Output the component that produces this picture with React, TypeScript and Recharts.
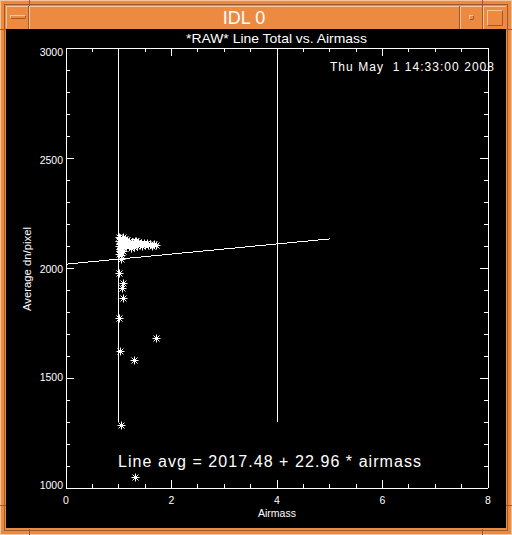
import React from 'react';
import { ScatterChart, Scatter, XAxis, YAxis, ReferenceLine } from 'recharts';

// ---- data ----
const airmass = [
  1.0, 1.01, 1.02, 1.0, 1.03, 1.04, 1.05, 1.02, 1.06, 1.07, 1.08, 1.09, 1.1, 1.11, 1.12, 1.13, 1.14, 1.15, 1.16,
  1.03, 1.05, 1.08, 1.01, 1.04, 1.06, 1.18, 1.19, 1.2,
  1.22, 1.25, 1.27, 1.3, 1.32, 1.35, 1.37, 1.4, 1.42, 1.45, 1.48, 1.5, 1.53, 1.56, 1.6, 1.63, 1.67, 1.7, 1.28, 1.24, 1.33,
  1.01, 1.04, 1.086, 1.067, 1.075, 1.01, 1.71, 1.03, 1.28, 1.05, 1.3,
];
const lineTotal = [
  2140, 2125, 2110, 2098, 2135, 2118, 2102, 2088, 2130, 2112, 2095, 2140, 2122, 2105, 2132, 2115, 2098, 2128, 2108,
  2076, 2082, 2079, 2065, 2058, 2090, 2120, 2100, 2125,
  2110, 2118, 2104, 2122, 2112, 2100, 2118, 2108, 2115, 2102, 2112, 2106, 2115, 2104, 2110, 2102, 2108, 2104, 2095, 2090, 2125,
  1976, 2040, 1932, 1908, 1864, 1771, 1680, 1623, 1580, 1286, 1051,
];
const xMajorTicks = [0, 2, 4, 6, 8];
const xAllTicks = [0, 0.5, 1, 1.5, 2, 2.5, 3, 3.5, 4, 4.5, 5, 5.5, 6, 6.5, 7, 7.5, 8];
const yMajorTicks = [1000, 1500, 2000, 2500, 3000];
const yAllTicks = [1000, 1100, 1200, 1300, 1400, 1500, 1600, 1700, 1800, 1900, 2000, 2100, 2200, 2300, 2400, 2500, 2600, 2700, 2800, 2900, 3000];
const fitIntercept = 2017.48;
const fitSlope = 22.96;
const fitXRange = [0, 5];
const markerAirmass = [1, 4];
const markerRange = [1300, 3000];

const titleText = '*RAW* Line Total vs. Airmass';
const dateText = 'Thu May  1 14:33:00 2008';
const fitText = 'Line avg = 2017.48 + 22.96 * airmass';
const xLabel = 'Airmass';
const yLabel = 'Average dn/pixel';
const windowTitle = 'IDL 0';

const points = airmass.map((x, i) => ({ x, y: lineTotal[i] }));

const FONT = '"Liberation Sans", Arial, sans-serif';
const ORANGE = '#ED8A41';
const LIGHT = '#F8C59B';
const DARK = '#A2582A';

const Asterisk = (p: any) => {
  const { cx, cy } = p;
  if (cx == null || cy == null) return <g />;
  const x = Math.round(cx) + 0.5;
  const y = Math.round(cy) + 0.5;
  return (
    <g stroke="#fff" strokeWidth={1}>
      <line x1={x - 4} x2={x + 4} y1={y} y2={y} />
      <line x1={x} x2={x} y1={y - 4} y2={y + 4} />
      <line x1={x - 3} x2={x + 3} y1={y - 3} y2={y + 3} />
      <line x1={x - 3} x2={x + 3} y1={y + 3} y2={y - 3} />
    </g>
  );
};

const BottomTick = (p: any) => {
  const { x, y, payload } = p;
  const major = xMajorTicks.includes(payload.value);
  return (
    <g>
      <line x1={x} x2={x} y1={y} y2={y - (major ? 8 : 4)} stroke="#fff" shapeRendering="crispEdges" />
      {major && (
        <text x={x} y={y + 16} textAnchor="middle" fill="#fff" fontSize={10.5} fontFamily={FONT}>
          {payload.value}
        </text>
      )}
    </g>
  );
};

const TopTick = (p: any) => {
  const { x, y, payload } = p;
  const major = xMajorTicks.includes(payload.value);
  return <line x1={x} x2={x} y1={y} y2={y + (major ? 8 : 4)} stroke="#fff" shapeRendering="crispEdges" />;
};

const LeftTick = (p: any) => {
  const { x, y, payload } = p;
  const v = payload.value;
  const major = yMajorTicks.includes(v);
  const off = 1 + 0.0035 * (v - 1000);
  return (
    <g>
      <line x1={x} x2={x + (major ? 8 : 4)} y1={y} y2={y} stroke="#fff" shapeRendering="crispEdges" />
      {major && (
        <text x={x - 3} y={y + off} textAnchor="end" fill="#fff" fontSize={10.5} fontFamily={FONT}>
          {v}
        </text>
      )}
    </g>
  );
};

const RightTick = (p: any) => {
  const { x, y, payload } = p;
  const major = yMajorTicks.includes(payload.value);
  return <line x1={x} x2={x - (major ? 8 : 4)} y1={y} y2={y} stroke="#fff" shapeRendering="crispEdges" />;
};

const Frame = () => (
  <svg width={512} height={535} style={{ position: 'absolute', left: 0, top: 0 }}>
    <rect x={0} y={0} width={512} height={535} fill={ORANGE} />
    <rect x={0.5} y={0.5} width={511} height={534} fill="none" stroke={LIGHT} />
    <rect x={4.5} y={4.5} width={503} height={526} fill="none" stroke={DARK} />
    <line x1={29.5} x2={29.5} y1={0} y2={6} stroke={DARK} />
    <line x1={482.5} x2={482.5} y1={0} y2={6} stroke={DARK} />
    <line x1={29.5} x2={29.5} y1={529} y2={535} stroke={DARK} />
    <line x1={482.5} x2={482.5} y1={529} y2={535} stroke={DARK} />
    <line x1={0} x2={6} y1={29.5} y2={29.5} stroke={DARK} />
    <line x1={506} x2={512} y1={29.5} y2={29.5} stroke={DARK} />
    <line x1={0} x2={6} y1={505.5} y2={505.5} stroke={DARK} />
    <line x1={506} x2={512} y1={505.5} y2={505.5} stroke={DARK} />
    <rect x={6} y={6} width={500} height={23} fill={ORANGE} />
    <line x1={6} x2={28} y1={6.5} y2={6.5} stroke={LIGHT} />
    <line x1={6.5} x2={6.5} y1={6} y2={28} stroke={LIGHT} />
    <line x1={28.5} x2={28.5} y1={6} y2={29} stroke={DARK} />
    <line x1={29.5} x2={29.5} y1={6} y2={29} stroke={LIGHT} />
    <line x1={29} x2={459} y1={6.5} y2={6.5} stroke={LIGHT} />
    <line x1={459.5} x2={459.5} y1={6} y2={29} stroke={DARK} />
    <line x1={460.5} x2={460.5} y1={6} y2={29} stroke={LIGHT} />
    <line x1={460} x2={482} y1={6.5} y2={6.5} stroke={LIGHT} />
    <line x1={482.5} x2={482.5} y1={6} y2={29} stroke={DARK} />
    <line x1={483.5} x2={483.5} y1={6} y2={29} stroke={LIGHT} />
    <line x1={483} x2={506} y1={6.5} y2={6.5} stroke={LIGHT} />
    <rect x={10.5} y={15.5} width={15} height={3} fill={ORANGE} stroke={LIGHT} />
    <line x1={10.5} x2={25.5} y1={18.5} y2={18.5} stroke={DARK} />
    <line x1={25.5} x2={25.5} y1={15.5} y2={18.5} stroke={DARK} />
    <rect x={469.5} y={15.5} width={4} height={4} fill={ORANGE} stroke={LIGHT} />
    <line x1={469.5} x2={473.5} y1={19.5} y2={19.5} stroke={DARK} />
    <line x1={473.5} x2={473.5} y1={15.5} y2={19.5} stroke={DARK} />
    <rect x={487.5} y={10.5} width={15} height={15} fill={ORANGE} stroke={LIGHT} />
    <line x1={487.5} x2={502.5} y1={25.5} y2={25.5} stroke={DARK} />
    <line x1={502.5} x2={502.5} y1={10.5} y2={25.5} stroke={DARK} />
    <text x={244} y={24} textAnchor="middle" fill="#fff" fontSize={18} fontFamily={FONT}>
      {windowTitle}
    </text>
    <rect x={6} y={29} width={500} height={499} fill="#000" />
  </svg>
);

const Texts = () => (
  <svg width={512} height={535} style={{ position: 'absolute', left: 0, top: 0, pointerEvents: 'none' }}>
    <text x={186} y={43} fill="#fff" fontSize={13} fontFamily={FONT} textLength={181} lengthAdjust="spacingAndGlyphs">
      {titleText}
    </text>
    <text x={330} y={71} fill="#fff" fontSize={12} fontFamily={FONT} textLength={164} lengthAdjust="spacing" style={{ whiteSpace: 'pre' }}>
      {dateText}
    </text>
    <text x={118} y={467} fill="#fff" fontSize={16} fontFamily={FONT} textLength={303} lengthAdjust="spacing">
      {fitText}
    </text>
    <text x={258} y={517} fill="#fff" fontSize={10.5} fontFamily={FONT} textLength={38} lengthAdjust="spacingAndGlyphs">
      {xLabel}
    </text>
    <text
      transform="translate(31,311) rotate(-90)"
      x={0}
      y={0}
      fill="#fff"
      fontSize={11}
      fontFamily={FONT}
      textLength={84}
      lengthAdjust="spacingAndGlyphs"
    >
      {yLabel}
    </text>
  </svg>
);

export default function App() {
  return (
    <div style={{ position: 'absolute', left: 0, top: 0, width: 512, height: 535, overflow: 'hidden' }}>
      <Frame />
      <div style={{ position: 'absolute', left: 0, top: 0 }}>
        <ScatterChart width={512} height={535} margin={{ top: 47, right: 23, bottom: 0, left: 0 }}>
          <XAxis
            type="number"
            dataKey="x"
            domain={[0, 8]}
            ticks={xAllTicks}
            interval={0}
            height={47}
            tickSize={0}
            tickMargin={0}
            tickLine={false}
            axisLine={{ stroke: '#fff', shapeRendering: 'crispEdges' }}
            tick={<BottomTick />}
          />
          <XAxis
            xAxisId="top"
            orientation="top"
            type="number"
            dataKey="x"
            domain={[0, 8]}
            ticks={xAllTicks}
            interval={0}
            height={1}
            tickSize={0}
            tickMargin={0}
            tickLine={false}
            axisLine={{ stroke: '#fff', shapeRendering: 'crispEdges' }}
            tick={<TopTick />}
          />
          <YAxis
            type="number"
            dataKey="y"
            domain={[1000, 3000]}
            ticks={yAllTicks}
            interval={0}
            width={66}
            tickSize={0}
            tickMargin={0}
            tickLine={false}
            axisLine={{ stroke: '#fff', shapeRendering: 'crispEdges' }}
            tick={<LeftTick />}
          />
          <YAxis
            yAxisId="right"
            orientation="right"
            type="number"
            dataKey="y"
            domain={[1000, 3000]}
            ticks={yAllTicks}
            interval={0}
            width={1}
            tickSize={0}
            tickMargin={0}
            tickLine={false}
            axisLine={{ stroke: '#fff', shapeRendering: 'crispEdges' }}
            tick={<RightTick />}
          />
          {markerAirmass.map((m) => (
            <ReferenceLine
              key={m}
              segment={[{ x: m, y: markerRange[0] }, { x: m, y: markerRange[1] }]}
              stroke="#fff"
              strokeWidth={1}
              shapeRendering="crispEdges"
            />
          ))}
          <ReferenceLine
            segment={[
              { x: fitXRange[0], y: fitIntercept + fitSlope * fitXRange[0] },
              { x: fitXRange[1], y: fitIntercept + fitSlope * fitXRange[1] },
            ]}
            stroke="#fff"
            strokeWidth={1}
            shapeRendering="crispEdges"
          />
          <Scatter data={points} isAnimationActive={false} shape={(p: any) => <Asterisk {...p} />} />
          <Scatter data={points} xAxisId="top" yAxisId="right" isAnimationActive={false} shape={() => <g />} />
        </ScatterChart>
      </div>
      <Texts />
    </div>
  );
}
